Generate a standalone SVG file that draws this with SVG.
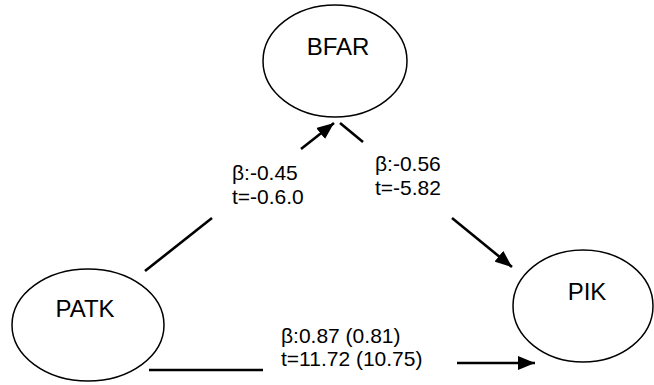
<svg xmlns="http://www.w3.org/2000/svg" width="654" height="385" viewBox="0 0 654 385">
<defs>
<marker id="ah" markerWidth="17" markerHeight="14" refX="17" refY="7" orient="auto" markerUnits="userSpaceOnUse" viewBox="0 0 17 14">
<path d="M0,0 L17,7 L0,14 z" fill="#000"/>
</marker>
<style>
.n{fill:#fff;stroke:#000;stroke-width:1.5}
.nt{font-family:"Liberation Sans",Arial,sans-serif;font-size:24px;fill:#000;text-anchor:middle}
.t{font-family:"Liberation Sans",Arial,sans-serif;font-size:21px;fill:#000}
.c{stroke:#000;stroke-width:2.6;fill:none}
</style>
</defs>
<rect width="654" height="385" fill="#fff"/>
<g id="BFAR"><ellipse class="n" cx="335" cy="61" rx="72" ry="56"/><text class="nt" x="338" y="55">BFAR</text></g>
<g id="PATK"><ellipse class="n" cx="88" cy="325" rx="76" ry="56"/><text class="nt" x="85" y="317">PATK</text></g>
<g id="PIK"><ellipse class="n" cx="583" cy="306" rx="70" ry="56"/><text class="nt" x="587" y="300">PIK</text></g>
<g id="connectors">
<line class="c" x1="145" y1="271" x2="212" y2="218"/>
<line class="c" x1="301" y1="149" x2="334" y2="123" marker-end="url(#ah)"/>
<line class="c" x1="340" y1="123" x2="363" y2="142"/>
<line class="c" x1="452" y1="218" x2="512" y2="267" marker-end="url(#ah)"/>
<line class="c" x1="149" y1="370" x2="263" y2="370"/>
<line class="c" x1="457" y1="363" x2="535" y2="363" marker-end="url(#ah)"/>
</g>
<g id="labels">
<text class="t" x="232" y="180">β:-0.45</text>
<text class="t" x="232" y="204">t=-0.6.0</text>
<text class="t" x="375" y="171">β:-0.56</text>
<text class="t" x="375" y="195">t=-5.82</text>
<text class="t" x="281" y="343">β:0.87 (0.81)</text>
<text class="t" x="281" y="366">t=11.72 (10.75)</text>
</g>
</svg>
